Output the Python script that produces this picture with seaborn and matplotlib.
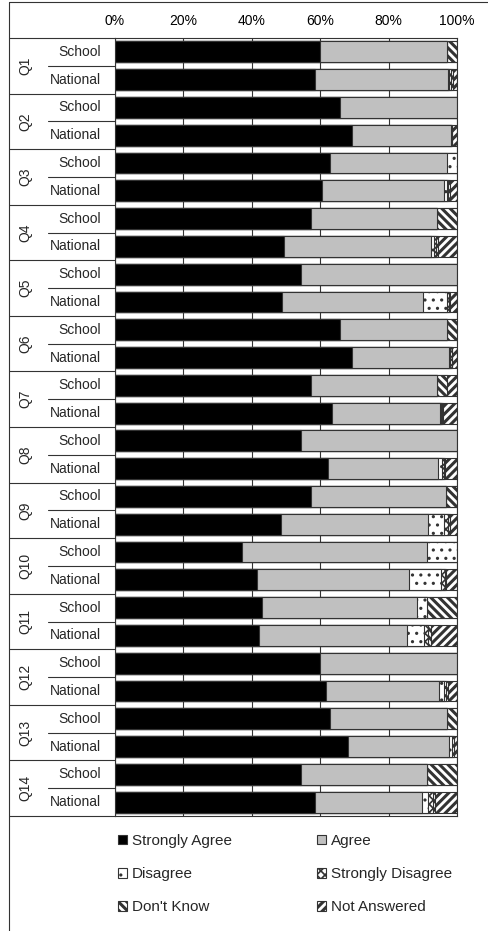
import pandas as pd
import matplotlib.pyplot as plt
import seaborn as sns
from matplotlib.patches import Patch
from matplotlib.lines import Line2D

# Survey responses (percent), one row per question and group
questions = ['Q1', 'Q2', 'Q3', 'Q4', 'Q5', 'Q6', 'Q7', 'Q8', 'Q9', 'Q10', 'Q11', 'Q12', 'Q13', 'Q14']
groups = ['School', 'National']
categories = ['Strongly Agree', 'Agree', 'Disagree', 'Strongly Disagree', "Don't Know", 'Not Answered']

strongly_agree = [60.0, 58.6, 65.8, 69.3, 63.0, 60.6, 57.3, 49.5, 54.5, 48.9, 65.9, 69.4, 57.3, 63.5,
                  54.4, 62.4, 57.3, 48.5, 37.2, 41.4, 43.1, 42.2, 60.0, 61.6, 63.0, 68.2, 54.4, 58.5]
agree = [37.0, 38.9, 34.2, 29.0, 34.0, 35.7, 36.9, 42.8, 45.5, 41.1, 31.1, 28.3, 36.9, 31.4,
         45.6, 31.9, 39.6, 43.0, 54.1, 44.6, 45.3, 43.2, 40.0, 33.2, 34.0, 29.6, 36.9, 31.4]
disagree = [0.0, 0.3, 0.0, 0.0, 3.0, 0.7, 0.0, 1.0, 0.0, 7.0, 0.0, 0.3, 0.0, 0.4,
            0.0, 1.4, 0.0, 4.8, 8.7, 9.4, 2.7, 5.0, 0.0, 1.5, 0.0, 0.7, 0.0, 1.7]
strongly_disagree = [0.0, 0.4, 0.0, 0.3, 0.0, 0.5, 0.0, 0.5, 0.0, 0.7, 0.0, 0.4, 0.0, 0.4,
                     0.0, 0.6, 0.0, 1.0, 0.0, 1.0, 0.0, 1.0, 0.0, 0.5, 0.0, 0.5, 0.0, 1.5]
dont_know = [3.0, 0.6, 0.0, 0.0, 0.0, 0.5, 5.8, 0.5, 0.0, 0.3, 3.0, 0.0, 2.9, 0.3,
             0.0, 0.3, 3.1, 0.7, 0.0, 0.5, 8.9, 1.0, 0.0, 0.5, 3.0, 0.0, 8.7, 0.5]
not_answered = [0.0, 1.2, 0.0, 1.4, 0.0, 2.0, 0.0, 5.7, 0.0, 2.0, 0.0, 1.6, 2.9, 4.0,
                0.0, 3.4, 0.0, 2.0, 0.0, 3.1, 0.0, 7.6, 0.0, 2.7, 0.0, 1.0, 0.0, 6.4]

colors = ['#000000', '#c0c0c0', '#ffffff', '#ffffff', '#ffffff', '#ffffff']
hatches = [None, None, '..', 'xxxx', '\\\\\\\\', '////']
hatch_lw = [1.0, 1.0, 1.1, 1.2, 2.2, 2.2]

rows = [f'{q} {g}' for q in questions for g in groups]
df = pd.DataFrame({'row': rows, 'Strongly Agree': strongly_agree, 'Agree': agree,
                   'Disagree': disagree, 'Strongly Disagree': strongly_disagree,
                   "Don't Know": dont_know, 'Not Answered': not_answered})

# cumulative sums so that bars can be layered from the widest down
cum = df[categories].cumsum(axis=1)
cum['row'] = df['row']

sns.set_theme(style='white')
plt.rcParams['font.family'] = ['Liberation Sans', 'DejaVu Sans']
plt.rcParams['hatch.color'] = 'black'
edge = '#333333'

fig = plt.figure(figsize=(4.88, 9.31), dpi=100)
ax = fig.add_axes([115 / 488, 1 - 816 / 931, 342 / 488, 778 / 931])

for i in range(len(categories) - 1, -1, -1):
    n_before = len(ax.patches)
    with plt.rc_context({'hatch.linewidth': hatch_lw[i]}):
        sns.barplot(data=cum, x=categories[i], y='row', order=rows, orient='h',
                    color=colors[i], saturation=1, width=0.75, errorbar=None,
                    edgecolor=edge, linewidth=0.8, hatch=hatches[i], ax=ax)
    for p in ax.patches[n_before:]:
        if hasattr(p, 'set_hatch_linewidth'):
            p.set_hatch_linewidth(hatch_lw[i])

ax.set_xlim(0, 100)
ax.set_ylim(len(rows) - 0.5, -0.5)
ax.set_xlabel('')
ax.set_ylabel('')
ax.xaxis.tick_top()
ax.set_xticks([0, 20, 40, 60, 80, 100])
ax.set_xticklabels(['0%', '20%', '40%', '60%', '80%', '100%'])
ax.tick_params(axis='x', length=0, pad=7, labelsize=10, colors='black')
ax.tick_params(axis='y', left=False, labelleft=False)
ax.grid(axis='x', color=edge, linewidth=0.8)
ax.set_axisbelow(True)
for s in ax.spines.values():
    s.set_color(edge)
    s.set_linewidth(0.8)

# two-level category labels on the left
trans = ax.get_yaxis_transform()
for k, q in enumerate(questions):
    ax.text(-0.263, 2 * k + 0.5, q, rotation=90, ha='center', va='center',
            fontsize=10, transform=trans)
    ax.text(-0.041, 2 * k, 'School', ha='right', va='center', fontsize=10, transform=trans)
    ax.text(-0.041, 2 * k + 1, 'National', ha='right', va='center', fontsize=10, transform=trans)
    ax.plot([-0.196, 0], [2 * k + 0.5, 2 * k + 0.5], color=edge, lw=0.8,
            transform=trans, clip_on=False)
for k in range(len(questions) + 1):
    ax.plot([-0.31, 0], [2 * k - 0.5, 2 * k - 0.5], color=edge, lw=0.8,
            transform=trans, clip_on=False)

# legend, row-wise in two columns
order = [0, 2, 4, 1, 3, 5]
handles = []
for i in order:
    with plt.rc_context({'hatch.linewidth': hatch_lw[i]}):
        h = Patch(facecolor=colors[i], edgecolor=edge, hatch=hatches[i], linewidth=0.8,
                  label=categories[i])
    if hasattr(h, 'set_hatch_linewidth'):
        h.set_hatch_linewidth(hatch_lw[i])
    handles.append(h)
leg = fig.legend(handles=handles, ncol=2, loc='upper left', bbox_to_anchor=(118 / 488, 1 - 834 / 931),
                 frameon=False, fontsize=11, handlelength=0.6, handleheight=0.6,
                 handletextpad=0.3, labelspacing=1.25, columnspacing=5.6,
                 borderpad=0, borderaxespad=0)
for h, i in zip(leg.get_patches(), order):
    if hasattr(h, 'set_hatch_linewidth'):
        h.set_hatch_linewidth(hatch_lw[i])

# outer frame (left and top edges)
fig.add_artist(Line2D([9 / 488, 9 / 488], [0, 1 - 2 / 931], color=edge, lw=0.8))
fig.add_artist(Line2D([9 / 488, 1], [1 - 2 / 931, 1 - 2 / 931], color=edge, lw=0.8))

fig.savefig('out.png', dpi=100)
